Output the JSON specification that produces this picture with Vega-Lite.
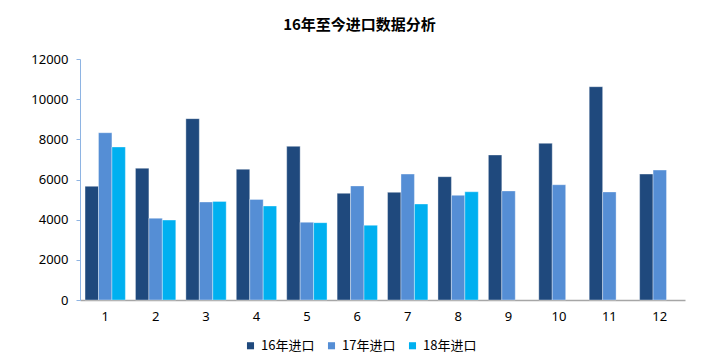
{
  "$schema": "https://vega.github.io/schema/vega-lite/v6.json",
  "autosize": {"type": "none"},
  "width": 605,
  "height": 241,
  "padding": {"left": 80, "top": 59, "right": 17, "bottom": 57},
  "background": "white",
  "title": {
    "text": "16年至今进口数据分析",
    "font": "Noto Sans CJK SC",
    "fontSize": 15,
    "fontWeight": "bold",
    "color": "#000000",
    "anchor": "middle",
    "dx": -23,
    "offset": 20
  },
  "data": {
    "values": [
      {"month": 1, "series": "16年进口", "value": 5660},
      {"month": 1, "series": "17年进口", "value": 8330},
      {"month": 1, "series": "18年进口", "value": 7620},
      {"month": 2, "series": "16年进口", "value": 6560},
      {"month": 2, "series": "17年进口", "value": 4070},
      {"month": 2, "series": "18年进口", "value": 3980},
      {"month": 3, "series": "16年进口", "value": 9030},
      {"month": 3, "series": "17年进口", "value": 4880},
      {"month": 3, "series": "18年进口", "value": 4910},
      {"month": 4, "series": "16年进口", "value": 6510},
      {"month": 4, "series": "17年进口", "value": 5010},
      {"month": 4, "series": "18年进口", "value": 4680},
      {"month": 5, "series": "16年进口", "value": 7650},
      {"month": 5, "series": "17年进口", "value": 3870},
      {"month": 5, "series": "18年进口", "value": 3850},
      {"month": 6, "series": "16年进口", "value": 5310},
      {"month": 6, "series": "17年进口", "value": 5680},
      {"month": 6, "series": "18年进口", "value": 3720},
      {"month": 7, "series": "16年进口", "value": 5360},
      {"month": 7, "series": "17年进口", "value": 6270},
      {"month": 7, "series": "18年进口", "value": 4780},
      {"month": 8, "series": "16年进口", "value": 6140},
      {"month": 8, "series": "17年进口", "value": 5210},
      {"month": 8, "series": "18年进口", "value": 5390},
      {"month": 9, "series": "16年进口", "value": 7220},
      {"month": 9, "series": "17年进口", "value": 5430},
      {"month": 10, "series": "16年进口", "value": 7800},
      {"month": 10, "series": "17年进口", "value": 5740},
      {"month": 11, "series": "16年进口", "value": 10620},
      {"month": 11, "series": "17年进口", "value": 5380},
      {"month": 12, "series": "16年进口", "value": 6270},
      {"month": 12, "series": "17年进口", "value": 6470}
    ]
  },
  "mark": {"type": "bar", "stroke": "#ffffff", "strokeWidth": 0.6, "strokeOpacity": 0.6},
  "encoding": {
    "x": {
      "field": "month",
      "type": "ordinal",
      "scale": {"paddingInner": 0.2, "paddingOuter": 0.1},
      "axis": {
        "title": null,
        "labelAngle": 0,
        "labelFont": "Noto Sans",
        "labelFontSize": 13,
        "labelColor": "#000000",
        "labelPadding": 10,
        "ticks": false,
        "domainColor": "#A6A6A6",
        "domainWidth": 1.5,
        "grid": false
      }
    },
    "xOffset": {
      "field": "series",
      "type": "nominal",
      "scale": {"domain": ["16年进口", "17年进口", "18年进口"], "paddingInner": 0, "paddingOuter": 0}
    },
    "y": {
      "field": "value",
      "type": "quantitative",
      "scale": {"domain": [0, 12000], "nice": false},
      "axis": {
        "title": null,
        "values": [0, 2000, 4000, 6000, 8000, 10000, 12000],
        "format": "d",
        "labelFont": "Noto Sans",
        "labelFontSize": 13,
        "labelColor": "#000000",
        "labelPadding": 8,
        "tickSize": 4,
        "tickColor": "#8EB4E3",
        "domainColor": "#8EB4E3",
        "domainWidth": 1,
        "grid": false
      }
    },
    "color": {
      "field": "series",
      "type": "nominal",
      "scale": {"domain": ["16年进口", "17年进口", "18年进口"], "range": ["#1F497D", "#558ED5", "#00B0F0"]},
      "legend": {
        "title": null,
        "orient": "none",
        "direction": "horizontal",
        "legendX": 164,
        "legendY": 280,
        "symbolType": "square",
        "symbolSize": 50,
        "symbolStrokeWidth": 0,
        "symbolOffset": 0,
        "labelFont": "Noto Sans CJK SC",
        "labelFontSize": 13,
        "labelColor": "#000000",
        "labelOffset": 4,
        "columnSpacing": 18
      }
    }
  },
  "config": {"view": {"stroke": null}}
}
